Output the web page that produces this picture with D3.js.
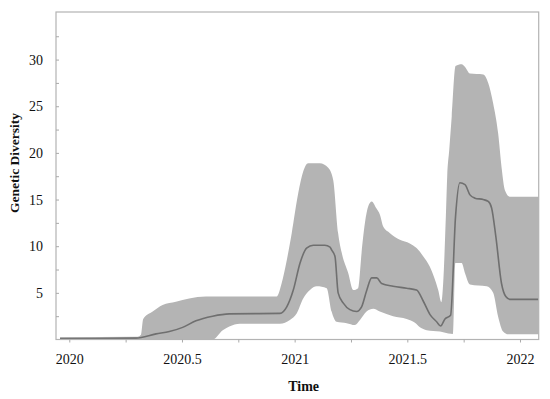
<!DOCTYPE html>
<html>
<head>
<meta charset="utf-8">
<script src="https://cdn.jsdelivr.net/npm/d3@7"></script>
<style>
html,body{margin:0;padding:0;background:#fff;}
svg{display:block;}
text{font-family:"Liberation Serif","Times New Roman",serif;fill:#111;}
</style>
</head>
<body>
<svg id="chart" width="550" height="399"></svg>
<script>
// Upper bound of the 95% HPD band
const upperTime = [2019.959,2020.3035,2020.318,2020.328,2020.370,2020.414,2020.473,2020.532,2020.606,2020.920,2020.942,2020.965,2020.987,2021.016,2021.038,2021.060,2021.112,2021.149,2021.171,2021.193,2021.209,2021.238,2021.260,2021.282,2021.297,2021.312,2021.327,2021.342,2021.364,2021.378,2021.393,2021.423,2021.467,2021.511,2021.541,2021.571,2021.600,2021.637,2021.651,2021.659,2021.671,2021.677,2021.686,2021.697,2021.714,2021.741,2021.756,2021.778,2021.837,2021.859,2021.881,2021.903,2021.918,2021.933,2021.955,2022.083];
const upperValue = [0.25,0.3,0.5,2.2,3.0,3.7,4.05,4.4,4.6,4.6,6.0,8.5,11.4,15.7,18.0,18.9,18.9,18.4,17.1,11.4,9.3,7.1,5.3,5.5,9.3,12.5,14.3,14.8,14.0,13.4,12.1,11.4,10.7,10.3,9.8,8.9,7.8,5.3,4.0,6.0,13.2,17.5,20.3,23.9,29.3,29.5,29.2,28.5,28.4,27.5,25.3,22.1,18.5,16.0,15.3,15.3];

// Median genetic diversity
const medianTime = [2019.959,2020.296,2020.385,2020.444,2020.503,2020.562,2020.636,2020.710,2020.935,2020.965,2020.994,2021.024,2021.053,2021.083,2021.134,2021.157,2021.164,2021.179,2021.193,2021.216,2021.245,2021.275,2021.297,2021.319,2021.342,2021.364,2021.386,2021.437,2021.497,2021.541,2021.571,2021.600,2021.630,2021.648,2021.667,2021.692,2021.714,2021.733,2021.756,2021.778,2021.800,2021.837,2021.859,2021.874,2021.893,2021.918,2021.937,2021.955,2022.083];
const medianValue = [0.1,0.15,0.6,0.85,1.3,2.0,2.5,2.75,2.8,3.5,5.3,8.2,9.8,10.1,10.1,9.9,9.6,8.9,5.0,3.9,3.2,3.0,3.5,5.2,6.6,6.6,6.0,5.7,5.5,5.3,4.1,2.7,1.9,1.45,2.2,2.6,13.2,16.8,16.6,15.5,15.15,15.0,14.8,14.1,11.0,6.0,4.6,4.3,4.3];

// Lower bound of the 95% HPD band
const lowerTime = [2019.959,2020.636,2020.681,2020.710,2020.757,2020.935,2020.979,2021.009,2021.038,2021.068,2021.098,2021.142,2021.164,2021.186,2021.231,2021.267,2021.290,2021.319,2021.349,2021.378,2021.437,2021.497,2021.534,2021.556,2021.586,2021.645,2021.682,2021.704,2021.713,2021.741,2021.756,2021.778,2021.852,2021.881,2021.903,2021.925,2021.948,2022.083];
const lowerValue = [0,0,1.0,1.4,1.7,1.7,2.1,2.8,4.4,5.3,5.7,5.5,3.0,1.9,1.75,1.55,2.1,3.0,3.3,3.0,2.5,2.2,1.8,1.3,1.0,0.85,0.65,0.6,8.2,8.2,7.1,5.9,5.7,5.0,2.45,0.85,0.55,0.55];

const xTicks = [2020,2020.25,2020.5,2020.75,2021,2021.25,2021.5,2021.75,2022];
const xTickLabels = ["2020","","2020.5","","2021","","2021.5","","2022"];
const yTicks = [2.5,5,7.5,10,12.5,15,17.5,20,22.5,25,27.5,30,32.5];
const yTickLabels = ["","5","","10","","15","","20","","25","","30",""];

const svg = d3.select("#chart");
const L = 56, R = 538.7, T = 12, B = 339.5;
const x = d3.scaleLinear().domain([2019.941, 2022.083]).range([L, R]);
const y = d3.scaleLinear().domain([0, 35.1]).range([B, T]);

const upper = upperTime.map((t,i)=>[t, upperValue[i]]);
const lower = lowerTime.map((t,i)=>[t, lowerValue[i]]);
const median = medianTime.map((t,i)=>[t, medianValue[i]]);

const line = d3.line().x(d=>x(d[0])).y(d=>y(d[1])).curve(d3.curveMonotoneX);

// band: upper edge forward, lower edge backward
const upPath = line(upper);
const lowPath = line(lower.slice().reverse());
svg.append("path")
  .attr("d", upPath + "L" + lowPath.slice(1) + "Z")
  .attr("fill", "#b4b4b4")
  .attr("stroke", "none");

// median
svg.append("path")
  .attr("d", line(median))
  .attr("fill", "none")
  .attr("stroke", "#6f6f6f")
  .attr("stroke-width", 1.6);

// frame
svg.append("rect")
  .attr("x", L).attr("y", T)
  .attr("width", R - L).attr("height", B - T)
  .attr("fill", "none").attr("stroke", "#b3b3b3").attr("stroke-width", 1.2);

// x axis
const xAxis = d3.axisBottom(x).tickValues(xTicks)
  .tickFormat((d,i)=>xTickLabels[i]).tickSize(3).tickPadding(12);
const gx = svg.append("g").attr("transform", `translate(0,${B})`).call(xAxis);
gx.select(".domain").remove();
gx.selectAll(".tick line").attr("stroke", "#aaa");
gx.selectAll(".tick text").attr("font-size", 14).style("font-family", '"Liberation Serif",serif').attr("fill", "#111");

// y axis (ticks inside)
const yAxis = d3.axisLeft(y).tickValues(yTicks)
  .tickFormat((d,i)=>yTickLabels[i]).tickSize(-3).tickPadding(13);
const gy = svg.append("g").attr("transform", `translate(${L},0)`).call(yAxis);
gy.select(".domain").remove();
gy.selectAll(".tick line").attr("stroke", "#aaa");
gy.selectAll(".tick text").attr("font-size", 14).style("font-family", '"Liberation Serif",serif').attr("fill", "#111");

// axis titles
svg.append("text")
  .attr("x", x(2021.04)).attr("y", 391)
  .attr("text-anchor", "middle")
  .attr("font-size", 14).attr("font-weight", "bold")
  .text("Time");
svg.append("text")
  .attr("transform", "translate(19,163) rotate(-90)")
  .attr("text-anchor", "middle")
  .attr("font-size", 13.5).attr("font-weight", "bold")
  .text("Genetic Diversity");
</script>
</body>
</html>
